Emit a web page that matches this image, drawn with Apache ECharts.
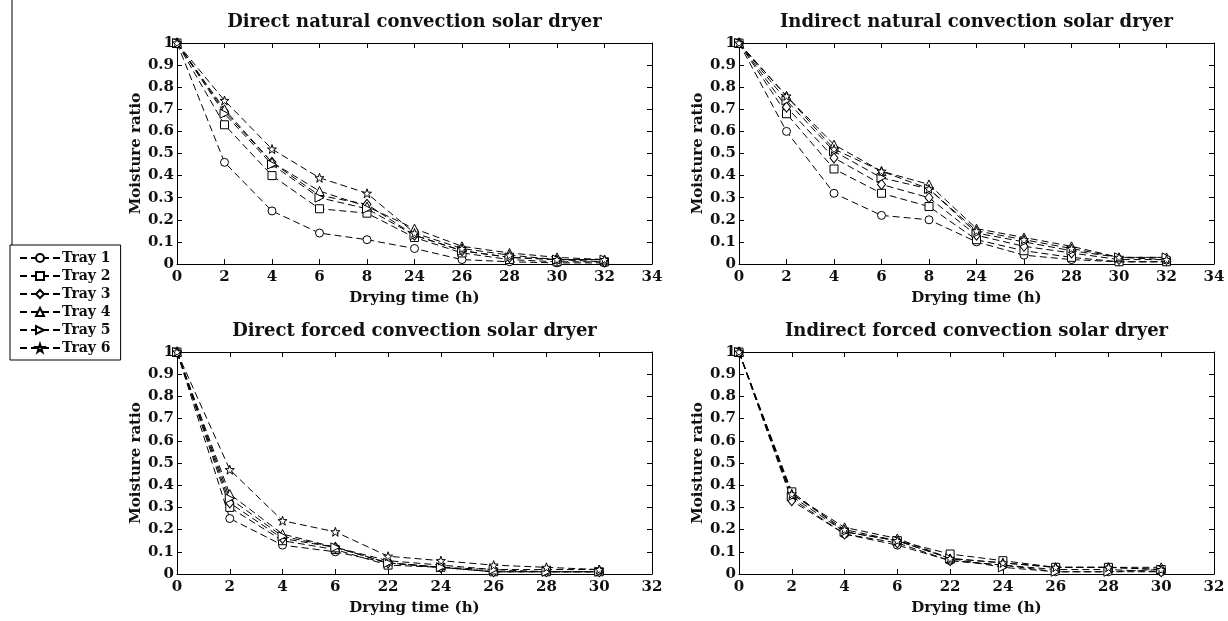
<!DOCTYPE html>
<html>
<head>
<meta charset="utf-8">
<title>Moisture ratio vs drying time</title>
<script src="https://cdn.jsdelivr.net/npm/echarts@6/dist/echarts.min.js"></script>
<style>
  html, body { margin: 0; padding: 0; background: #fff; }
  #chart { width: 1228px; height: 621px; }
</style>
</head>
<body>
<div id="chart"></div>
<script>
// x categories (drying time, h)
const timesNatural = ['0', '2', '4', '6', '8', '24', '26', '28', '30', '32', '34']
const timesForced = ['0', '2', '4', '6', '22', '24', '26', '28', '30', '32']

const trayNames = ['Tray 1', 'Tray 2', 'Tray 3', 'Tray 4', 'Tray 5', 'Tray 6']

// moisture ratio per tray (rows = Tray 1..6)
const directNatural = [
  [1, 0.46, 0.24, 0.14, 0.11, 0.07, 0.02, 0.01, 0.005, 0.005],
  [1, 0.63, 0.40, 0.25, 0.23, 0.12, 0.05, 0.02, 0.01, 0.01],
  [1, 0.69, 0.46, 0.31, 0.27, 0.13, 0.06, 0.03, 0.02, 0.01],
  [1, 0.70, 0.46, 0.33, 0.26, 0.16, 0.08, 0.05, 0.03, 0.02],
  [1, 0.68, 0.45, 0.30, 0.25, 0.13, 0.06, 0.03, 0.02, 0.02],
  [1, 0.74, 0.52, 0.39, 0.32, 0.14, 0.07, 0.04, 0.02, 0.02],
]
const indirectNatural = [
  [1, 0.60, 0.32, 0.22, 0.20, 0.10, 0.04, 0.02, 0.01, 0.01],
  [1, 0.68, 0.43, 0.32, 0.26, 0.11, 0.06, 0.03, 0.01, 0.01],
  [1, 0.71, 0.48, 0.36, 0.30, 0.13, 0.08, 0.05, 0.02, 0.02],
  [1, 0.76, 0.54, 0.42, 0.36, 0.16, 0.12, 0.08, 0.03, 0.03],
  [1, 0.74, 0.51, 0.39, 0.34, 0.14, 0.10, 0.06, 0.03, 0.03],
  [1, 0.76, 0.52, 0.42, 0.34, 0.15, 0.11, 0.07, 0.03, 0.02],
]
const directForced = [
  [1, 0.25, 0.13, 0.10, 0.05, 0.03, 0.01, 0.01, 0.01],
  [1, 0.30, 0.15, 0.11, 0.04, 0.03, 0.01, 0.01, 0.01],
  [1, 0.32, 0.16, 0.12, 0.05, 0.03, 0.01, 0.01, 0.01],
  [1, 0.36, 0.18, 0.12, 0.06, 0.04, 0.02, 0.02, 0.02],
  [1, 0.34, 0.17, 0.12, 0.05, 0.03, 0.02, 0.01, 0.01],
  [1, 0.47, 0.24, 0.19, 0.08, 0.06, 0.04, 0.03, 0.02],
]
const indirectForced = [
  [1, 0.34, 0.18, 0.13, 0.06, 0.04, 0.01, 0.01, 0.01],
  [1, 0.37, 0.19, 0.15, 0.09, 0.06, 0.03, 0.03, 0.02],
  [1, 0.33, 0.18, 0.14, 0.06, 0.04, 0.02, 0.02, 0.01],
  [1, 0.36, 0.21, 0.16, 0.07, 0.05, 0.03, 0.03, 0.03],
  [1, 0.35, 0.19, 0.15, 0.07, 0.03, 0.01, 0.01, 0.02],
  [1, 0.36, 0.20, 0.15, 0.07, 0.05, 0.03, 0.03, 0.02],
]

const panelTitles = [
  'Direct natural convection solar dryer',
  'Indirect natural convection solar dryer',
  'Direct forced convection solar dryer',
  'Indirect forced convection solar dryer',
]

const starPath = 'path://M0,-10 L2.4,-3.1 L9.5,-3.1 L3.8,1.2 L5.9,8.1 L0,3.8 L-5.9,8.1 L-3.8,1.2 L-9.5,-3.1 L-2.4,-3.1 Z'
const markers = [
  { symbol: 'circle', size: 8, rotate: 0 },
  { symbol: 'rect', size: 8, rotate: 0 },
  { symbol: 'diamond', size: [8, 10], rotate: 0 },
  { symbol: 'triangle', size: 9, rotate: 0 },
  { symbol: 'triangle', size: 9, rotate: -90 },
  { symbol: starPath, size: 9, rotate: 0 },
]

const FONT = 'DejaVu Serif'

// grid positions
const panels = [
  { data: directNatural, cats: timesNatural, left: 177, top: 43, height: 221 },
  { data: indirectNatural, cats: timesNatural, left: 739, top: 43, height: 221 },
  { data: directForced, cats: timesForced, left: 177, top: 352, height: 222 },
  { data: indirectForced, cats: timesForced, left: 739, top: 352, height: 222 },
]
const plotWidth = 475

const chart = echarts.init(document.getElementById('chart'), null, { renderer: 'canvas' })

const grid = []
const xAxis = []
const yAxis = []
const series = []
const title = []

panels.forEach((p, g) => {
  grid.push({ left: p.left, top: p.top, width: plotWidth, height: p.height, containLabel: false })

  title.push({
    text: panelTitles[g],
    left: p.left + plotWidth / 2 - 5,
    top: p.top - 35,
    textAlign: 'center',
    textStyle: { fontFamily: FONT, fontSize: 18, fontWeight: 'bold', color: '#111' },
  })

  const axisLine = { show: true, onZero: false, lineStyle: { color: '#000', width: 1 } }
  const tick = { show: true, inside: true, length: 5, lineStyle: { color: '#000', width: 1 } }

  // bottom x axis
  xAxis.push({
    gridIndex: g,
    type: 'category',
    data: p.cats,
    boundaryGap: false,
    position: 'bottom',
    name: 'Drying time (h)',
    nameLocation: 'middle',
    nameGap: 27,
    nameTextStyle: { fontFamily: FONT, fontSize: 15, fontWeight: 'bold', color: '#111' },
    axisLine,
    axisTick: { ...tick, interval: 0 },
    axisLabel: { interval: 0, margin: 6, fontFamily: FONT, fontSize: 15, fontWeight: 'bold', color: '#111' },
    splitLine: { show: false },
  })
  // top mirrored x axis
  xAxis.push({
    gridIndex: g,
    type: 'category',
    data: p.cats,
    boundaryGap: false,
    position: 'top',
    axisLine,
    axisTick: { ...tick, interval: 0 },
    axisLabel: { show: false },
    splitLine: { show: false },
  })
  // left y axis
  yAxis.push({
    gridIndex: g,
    type: 'value',
    min: 0,
    max: 1,
    interval: 0.1,
    position: 'left',
    name: 'Moisture ratio',
    nameLocation: 'middle',
    nameGap: 33,
    nameTextStyle: { fontFamily: FONT, fontSize: 15, fontWeight: 'bold', color: '#111' },
    axisLine,
    axisTick: tick,
    axisLabel: {
      margin: 3,
      fontFamily: FONT,
      fontSize: 15,
      fontWeight: 'bold',
      color: '#111',
      formatter: (v) => (v === 0 ? '0' : v >= 0.999 ? '1' : v.toFixed(1)),
    },
    splitLine: { show: false },
  })
  // right mirrored y axis
  yAxis.push({
    gridIndex: g,
    type: 'value',
    min: 0,
    max: 1,
    interval: 0.1,
    position: 'right',
    axisLine,
    axisTick: tick,
    axisLabel: { show: false },
    splitLine: { show: false },
  })

  p.data.forEach((row, t) => {
    const m = markers[t]
    series.push({
      name: trayNames[t],
      type: 'line',
      xAxisIndex: g * 2,
      yAxisIndex: g * 2,
      data: row,
      symbol: m.symbol,
      symbolSize: m.size,
      symbolRotate: m.rotate,
      showAllSymbol: true,
      animation: false,
      lineStyle: { color: '#000', width: 1, type: [7, 4] },
      itemStyle: { color: '#fff', borderColor: '#000', borderWidth: 1 },
      emphasis: { disabled: true },
    })
  })
})

const option = {
  backgroundColor: '#fff',
  animation: false,
  title,
  grid,
  xAxis,
  yAxis,
  series,
  legend: {
    data: trayNames,
    orient: 'vertical',
    left: 10,
    top: 245,
    width: 112,
    padding: [5, 10, 4, 9],
    itemWidth: 40,
    itemHeight: 10,
    itemGap: 2,
    backgroundColor: '#fff',
    borderColor: '#000',
    borderWidth: 1,
    borderRadius: 0,
    selectedMode: false,
    textStyle: { fontFamily: FONT, fontSize: 14, fontWeight: 'bold', color: '#111', padding: [0, 0, 0, -3], lineHeight: 16 },
  },
  graphic: [
    {
      type: 'line',
      shape: { x1: 12, y1: 0, x2: 12, y2: 245 },
      style: { stroke: '#000', lineWidth: 1 },
    },
  ],
}

chart.setOption(option)
</script>
</body>
</html>
